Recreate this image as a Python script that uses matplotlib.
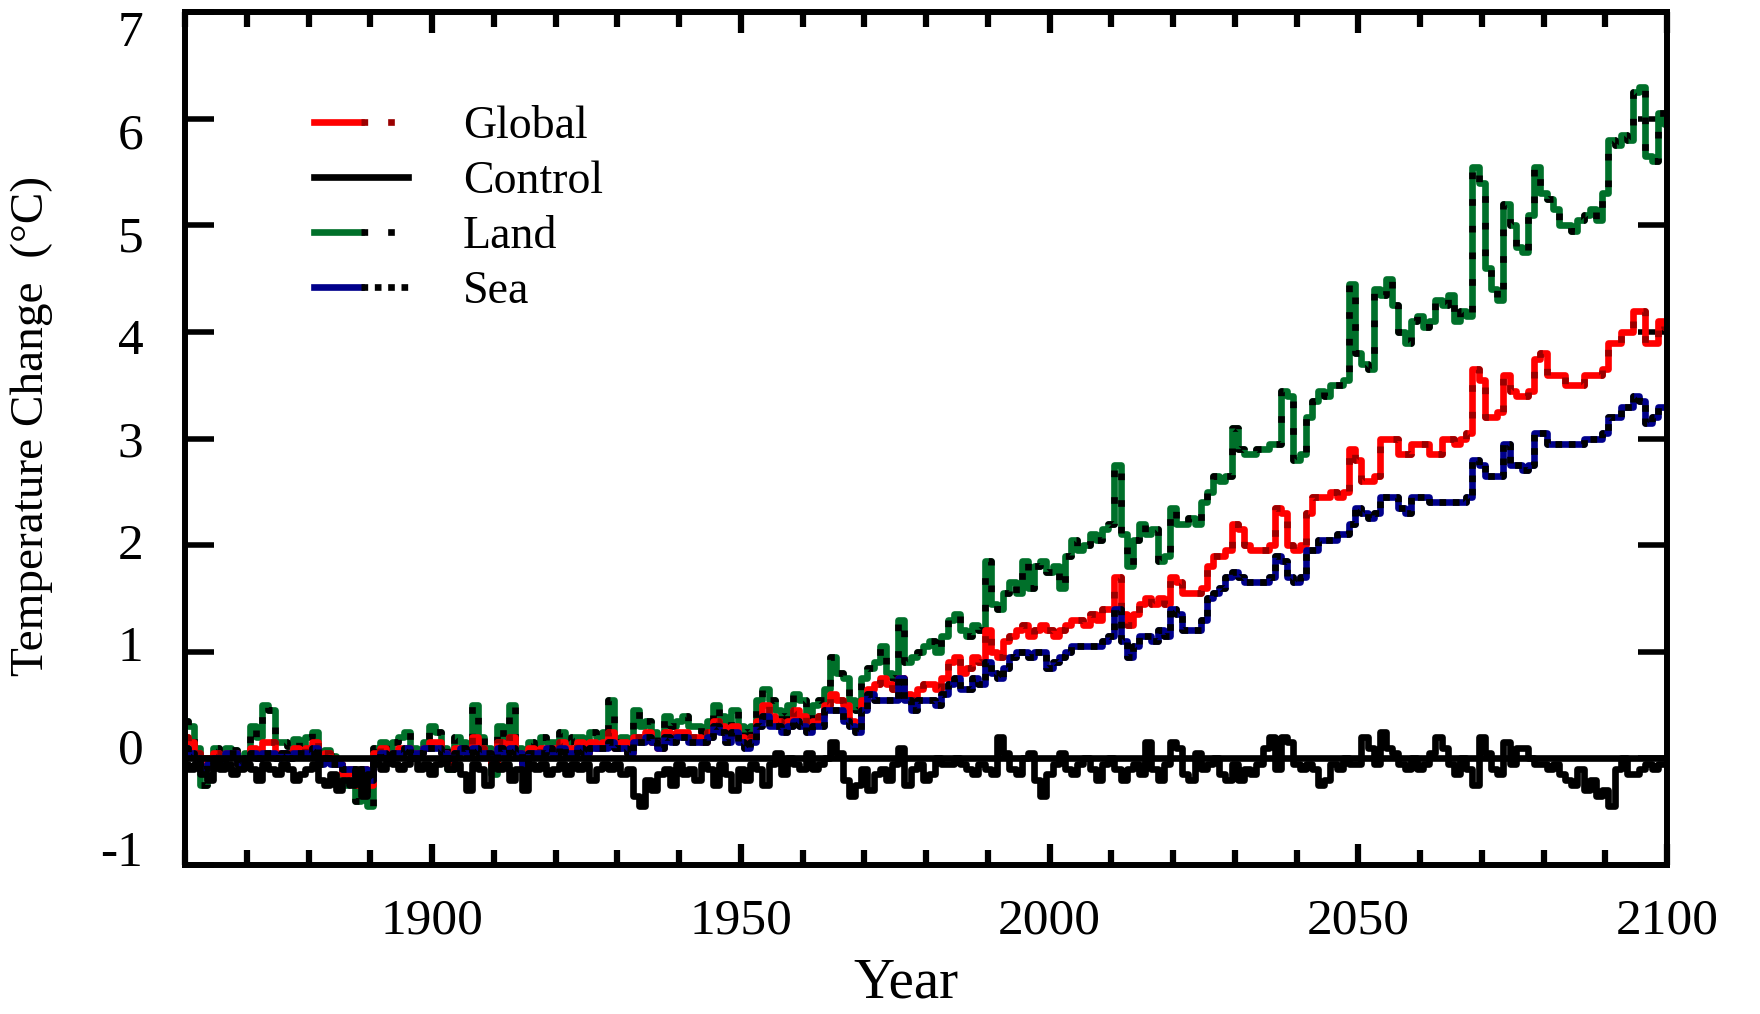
#%% Imports

import numpy as np
import matplotlib.pyplot as plt
import matplotlib.transforms as mtransforms
from matplotlib.legend_handler import HandlerTuple
from matplotlib.ticker import MultipleLocator

#%% Data (annual temperature change, 1860-2100)

years = np.arange(1860, 2101)

land = [
    0.35, 0.30, 0.10, -0.25, -0.05, 0.10, 0.05, 0.10, 0.08, -0.05,
    0.05, 0.30, 0.20, 0.50, 0.45, 0.15, 0.15, 0.12, 0.18, 0.10,
    0.20, 0.25, 0.05, 0.08, 0.02, -0.05, -0.25, -0.20, -0.40, -0.15,
    -0.45, 0.10, 0.15, 0.05, 0.15, 0.20, 0.25, 0.10, 0.05, 0.15,
    0.30, 0.25, 0.10, -0.10, 0.20, 0.15, 0.05, 0.50, 0.20, 0.10,
    -0.15, 0.30, 0.20, 0.50, 0.10, -0.10, 0.15, 0.10, 0.20, 0.15,
    0.15, 0.25, 0.15, 0.20, 0.20, 0.10, 0.25, 0.20, 0.25, 0.55,
    0.15, 0.20, 0.10, 0.45, 0.30, 0.35, 0.25, 0.15, 0.40, 0.30,
    0.35, 0.40, 0.30, 0.30, 0.25, 0.35, 0.50, 0.40, 0.30, 0.45,
    0.30, 0.25, 0.30, 0.55, 0.65, 0.55, 0.45, 0.40, 0.50, 0.60,
    0.55, 0.35, 0.50, 0.55, 0.65, 0.95, 0.80, 0.75, 0.55, 0.45,
    0.75, 0.85, 0.90, 1.05, 0.80, 0.75, 1.30, 0.90, 0.95, 1.00,
    1.05, 1.10, 1.00, 1.15, 1.30, 1.35, 1.20, 1.15, 1.25, 1.20,
    1.85, 1.45, 1.40, 1.55, 1.65, 1.55, 1.85, 1.60, 1.80, 1.85,
    1.75, 1.80, 1.60, 1.90, 2.05, 1.95, 2.00, 2.10, 2.05, 2.15,
    2.20, 2.75, 2.10, 1.80, 2.05, 2.20, 2.10, 2.15, 1.85, 1.90,
    2.35, 2.20, 2.20, 2.25, 2.20, 2.40, 2.50, 2.65, 2.60, 2.65,
    3.10, 2.90, 2.85, 2.85, 2.90, 2.90, 2.95, 2.95, 3.45, 3.40,
    2.80, 2.85, 3.20, 3.35, 3.45, 3.40, 3.50, 3.50, 3.55, 4.45,
    3.80, 3.70, 3.65, 4.40, 4.35, 4.50, 4.25, 4.00, 3.90, 4.10,
    4.15, 4.05, 4.10, 4.30, 4.25, 4.35, 4.10, 4.20, 4.15, 5.55,
    5.40, 4.60, 4.40, 4.30, 5.20, 5.00, 4.80, 4.75, 5.10, 5.55,
    5.30, 5.25, 5.15, 5.00, 5.00, 4.95, 5.05, 5.10, 5.15, 5.05,
    5.30, 5.80, 5.75, 5.85, 5.80, 6.25, 6.30, 5.65, 5.60, 6.05, 5.95,
]

glob = [
    0.20, 0.15, 0.05, -0.10, 0.00, 0.05, 0.00, 0.05, 0.05, -0.05,
    0.00, 0.10, 0.05, 0.15, 0.15, 0.05, 0.05, 0.05, 0.10, 0.05,
    0.10, 0.15, 0.00, 0.05, 0.00, -0.05, -0.15, -0.10, -0.25, -0.10,
    -0.25, 0.05, 0.10, 0.00, 0.05, 0.10, 0.10, 0.05, 0.05, 0.10,
    0.15, 0.15, 0.05, -0.05, 0.10, 0.10, 0.05, 0.20, 0.10, 0.05,
    -0.05, 0.15, 0.10, 0.20, 0.05, -0.05, 0.10, 0.05, 0.10, 0.10,
    0.10, 0.15, 0.10, 0.10, 0.15, 0.05, 0.15, 0.10, 0.15, 0.25,
    0.10, 0.15, 0.05, 0.20, 0.20, 0.25, 0.15, 0.10, 0.25, 0.20,
    0.25, 0.25, 0.20, 0.20, 0.15, 0.25, 0.35, 0.30, 0.20, 0.30,
    0.20, 0.15, 0.20, 0.35, 0.50, 0.40, 0.35, 0.30, 0.35, 0.45,
    0.40, 0.30, 0.35, 0.40, 0.50, 0.60, 0.55, 0.50, 0.35, 0.30,
    0.55, 0.65, 0.70, 0.75, 0.70, 0.65, 0.75, 0.60, 0.55, 0.65,
    0.70, 0.70, 0.65, 0.75, 0.90, 0.95, 0.80, 0.85, 0.95, 0.90,
    1.20, 1.00, 0.95, 1.10, 1.15, 1.20, 1.25, 1.15, 1.20, 1.25,
    1.20, 1.15, 1.20, 1.25, 1.30, 1.30, 1.25, 1.35, 1.30, 1.40,
    1.40, 1.70, 1.35, 1.25, 1.35, 1.45, 1.50, 1.45, 1.50, 1.45,
    1.70, 1.65, 1.55, 1.55, 1.55, 1.60, 1.80, 1.90, 1.90, 1.95,
    2.20, 2.15, 2.00, 1.95, 1.95, 1.95, 2.00, 2.35, 2.30, 2.00,
    1.95, 2.00, 2.30, 2.45, 2.45, 2.45, 2.50, 2.45, 2.50, 2.90,
    2.80, 2.60, 2.60, 2.65, 3.00, 3.00, 3.00, 2.85, 2.85, 2.95,
    2.95, 2.95, 2.85, 2.85, 3.00, 3.00, 2.95, 3.00, 3.05, 3.65,
    3.55, 3.20, 3.20, 3.25, 3.60, 3.45, 3.40, 3.40, 3.45, 3.75,
    3.80, 3.60, 3.60, 3.60, 3.50, 3.50, 3.50, 3.60, 3.60, 3.60,
    3.65, 3.90, 3.90, 4.00, 4.00, 4.20, 4.20, 3.90, 3.90, 4.10, 4.05,
]

sea = [
    0.10, 0.05, 0.00, -0.10, -0.05, 0.00, -0.05, 0.05, 0.05, -0.05,
    0.00, 0.05, 0.00, 0.05, 0.05, 0.00, 0.05, 0.00, 0.05, 0.05,
    0.05, 0.10, -0.05, 0.00, -0.05, -0.05, -0.10, -0.10, -0.20, -0.10,
    -0.20, 0.00, 0.05, 0.00, 0.05, 0.05, 0.10, 0.05, 0.05, 0.10,
    0.10, 0.10, 0.05, 0.00, 0.05, 0.10, 0.05, 0.10, 0.05, 0.05,
    0.00, 0.10, 0.05, 0.10, 0.05, -0.05, 0.05, 0.05, 0.05, 0.10,
    0.05, 0.10, 0.05, 0.05, 0.10, 0.05, 0.10, 0.10, 0.10, 0.15,
    0.10, 0.10, 0.05, 0.15, 0.15, 0.20, 0.15, 0.10, 0.20, 0.15,
    0.20, 0.20, 0.15, 0.15, 0.15, 0.20, 0.30, 0.25, 0.15, 0.25,
    0.15, 0.10, 0.15, 0.30, 0.40, 0.30, 0.30, 0.25, 0.30, 0.35,
    0.30, 0.25, 0.30, 0.30, 0.45, 0.45, 0.45, 0.35, 0.30, 0.25,
    0.45, 0.60, 0.55, 0.55, 0.55, 0.55, 0.75, 0.55, 0.45, 0.55,
    0.55, 0.55, 0.50, 0.60, 0.70, 0.75, 0.65, 0.65, 0.75, 0.70,
    0.90, 0.80, 0.75, 0.85, 0.95, 1.00, 1.00, 0.95, 1.00, 1.00,
    0.85, 0.90, 0.95, 1.00, 1.05, 1.05, 1.05, 1.05, 1.05, 1.10,
    1.15, 1.40, 1.10, 0.95, 1.05, 1.15, 1.15, 1.10, 1.20, 1.15,
    1.40, 1.35, 1.20, 1.20, 1.20, 1.30, 1.50, 1.55, 1.60, 1.70,
    1.75, 1.70, 1.65, 1.65, 1.65, 1.65, 1.70, 1.90, 1.85, 1.70,
    1.65, 1.70, 1.95, 1.95, 2.05, 2.05, 2.05, 2.10, 2.10, 2.20,
    2.35, 2.30, 2.25, 2.30, 2.45, 2.45, 2.45, 2.35, 2.30, 2.45,
    2.45, 2.45, 2.40, 2.40, 2.40, 2.40, 2.40, 2.40, 2.45, 2.80,
    2.75, 2.65, 2.65, 2.65, 2.95, 2.75, 2.75, 2.70, 2.75, 3.05,
    3.05, 2.95, 2.95, 2.95, 2.95, 2.95, 2.95, 3.00, 3.00, 3.00,
    3.05, 3.20, 3.20, 3.30, 3.30, 3.40, 3.35, 3.15, 3.20, 3.30, 3.30,
]

control = [
    -0.05, -0.10, -0.05, -0.15, -0.20, -0.05, -0.10, -0.05, -0.15, -0.10,
    -0.05, -0.10, -0.20, -0.05, -0.10, -0.15, -0.05, -0.10, -0.20, -0.15,
    -0.10, -0.05, -0.20, -0.25, -0.15, -0.30, -0.20, -0.25, -0.10, -0.35,
    -0.15, -0.05, -0.10, 0.00, -0.05, -0.10, -0.05, 0.00, -0.10, -0.05,
    -0.15, -0.05, 0.00, -0.10, -0.05, -0.15, -0.30, -0.05, -0.10, -0.25,
    -0.05, -0.10, -0.05, -0.20, -0.10, -0.30, -0.05, -0.10, -0.05, -0.15,
    -0.10, -0.05, -0.15, -0.05, -0.10, -0.05, -0.20, -0.10, -0.05, -0.10,
    -0.05, -0.15, -0.10, -0.35, -0.45, -0.20, -0.30, -0.15, -0.10, -0.25,
    -0.05, -0.15, -0.10, -0.20, -0.05, -0.10, -0.25, -0.05, -0.15, -0.30,
    -0.10, -0.20, -0.05, -0.10, -0.25, -0.05, 0.05, -0.15, 0.00, -0.05,
    -0.10, 0.05, -0.10, -0.05, 0.00, 0.15, 0.05, -0.20, -0.35, -0.25,
    -0.10, -0.30, -0.15, -0.10, -0.20, -0.05, 0.10, -0.25, -0.10, -0.05,
    -0.20, -0.15, 0.00, -0.05, -0.05, 0.00, -0.05, -0.10, -0.15, -0.05,
    -0.10, -0.15, 0.20, 0.05, -0.10, -0.15, 0.00, 0.05, -0.20, -0.35,
    -0.15, -0.05, 0.05, -0.10, -0.15, -0.05, 0.00, -0.10, -0.20, -0.05,
    0.00, -0.10, -0.20, -0.10, -0.05, -0.15, 0.15, -0.10, -0.20, -0.05,
    0.15, 0.10, -0.15, -0.20, 0.05, -0.10, -0.05, 0.00, -0.15, -0.20,
    -0.05, -0.20, -0.10, -0.15, -0.05, 0.10, 0.20, -0.10, 0.20, 0.15,
    -0.05, -0.10, -0.05, -0.10, -0.25, -0.20, -0.05, -0.10, 0.00, -0.05,
    -0.05, 0.20, 0.10, -0.05, 0.25, 0.10, 0.05, -0.05, -0.10, 0.00,
    -0.10, -0.05, 0.05, 0.20, 0.10, -0.05, -0.15, 0.00, -0.10, -0.25,
    0.20, 0.05, -0.10, -0.15, 0.15, -0.05, 0.10, 0.10, 0.00, -0.05,
    -0.05, -0.10, -0.05, -0.15, -0.20, -0.25, -0.10, -0.30, -0.20, -0.35,
    -0.30, -0.45, -0.10, 0.00, -0.15, -0.15, -0.10, -0.05, -0.10, -0.05, -0.05,
]

labels = ['Global', 'Control', 'Land', 'Sea']

#%% Style

plt.rcParams['font.family'] = ['Liberation Serif', 'DejaVu Serif']
plt.rcParams['axes.unicode_minus'] = False

lw = 4.8
# (line colour, dash overlay colour, dash pattern)
styles = {
    'Global': ('#ff0000', '#9a0000', (1.0, 3.0)),
    'Land': ('#00702a', '#000000', (1.0, 3.0)),
    'Sea': ('#00008b', '#000000', (1.0, 1.0)),
}

#%% Plot

fig = plt.figure(figsize=(17.6, 10.14), dpi=100)
ax = fig.add_axes([185/1760, 1 - 865/1014, 1482/1760, 853/1014])

handles = {}
for name, data in [('Land', land), ('Global', glob), ('Sea', sea)]:
    col, dcol, dash = styles[name]
    l1, = ax.plot(years, data, drawstyle='steps-mid', color=col, lw=lw, zorder=2)
    l2, = ax.plot(years, data, drawstyle='steps-mid', color=dcol, lw=lw,
                  dashes=dash, zorder=2)
    handles[name] = (l1, l2)

ax.axhline(0, color='black', lw=lw, zorder=3)
lc, = ax.plot(years, control, drawstyle='steps-mid', color='black', lw=lw, zorder=3)
handles['Control'] = (lc,)

# axes limits and ticks
ax.set_xlim(1860, 2100)
ax.set_ylim(-1, 7)
ax.xaxis.set_major_locator(MultipleLocator(50))
ax.xaxis.set_minor_locator(MultipleLocator(10))
ax.yaxis.set_major_locator(MultipleLocator(1))

for s in ax.spines.values():
    s.set_linewidth(4.3)

ax.tick_params(axis='x', which='major', direction='in', top=True, bottom=True,
               length=15, width=4.5, labelsize=37, pad=24)
ax.tick_params(axis='x', which='minor', direction='in', top=True, bottom=True,
               length=10.5, width=4.5)
ax.tick_params(axis='y', which='major', direction='in', left=True, right=True,
               length=21, width=4, labelsize=37, pad=30)

# y labels in the original sit slightly closer together than the ticks
fig.canvas.draw()
for tick in ax.yaxis.get_major_ticks():
    v = tick.get_loc()
    off = mtransforms.ScaledTranslation(0, -(v - 3) * 3.0 / 72, fig.dpi_scale_trans)
    tick.label1.set_transform(tick.label1.get_transform() + off)

ax.set_xlabel('Year', fontsize=41)
ax.xaxis.set_label_coords(0.4865, -0.108)
ax.set_ylabel('Temperature Change  (°C)', fontsize=34)
ax.yaxis.set_label_coords(-0.089, 0.515)

# legend
ax.legend([handles[n] for n in labels], labels,
          handler_map={tuple: HandlerTuple(ndivide=None, pad=0)},
          loc='upper left', bbox_to_anchor=(0.087, 0.89), frameon=False,
          fontsize=33, handlelength=2.05, handletextpad=1.2,
          labelspacing=0.27, borderpad=0, borderaxespad=0)

plt.savefig('out.png', dpi=100)
